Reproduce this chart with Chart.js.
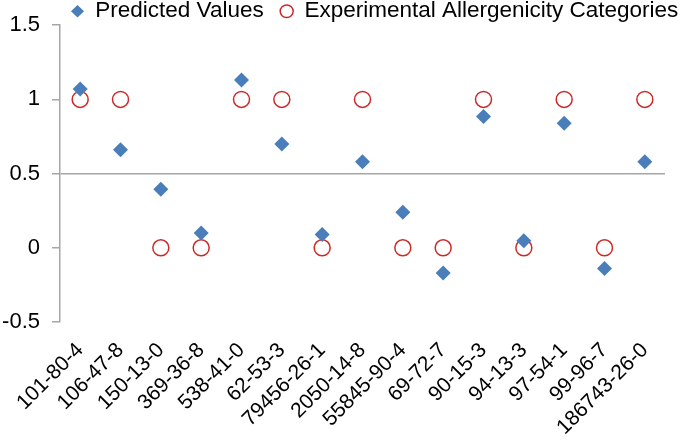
<!DOCTYPE html>
<html>
<head>
<meta charset="utf-8">
<script src="https://cdn.jsdelivr.net/npm/chart.js@4/dist/chart.umd.min.js"></script>
<style>
html, body { margin: 0; padding: 0; background: #fff; }
#wrap { width: 685px; height: 440px; }
</style>
</head>
<body>
<div id="wrap"><canvas id="myChart"></canvas></div>
<script>
const categories = ['101-80-4', '106-47-8', '150-13-0', '369-36-8', '538-41-0', '62-53-3', '79456-26-1',
	'2050-14-8', '55845-90-4', '69-72-7', '90-15-3', '94-13-3', '97-54-1', '99-96-7', '186743-26-0'];
const predicted = [1.07, 0.66, 0.395, 0.10, 1.13, 0.70, 0.09, 0.58, 0.24, -0.17, 0.885, 0.047, 0.84, -0.14, 0.58];
const experimental = [1, 1, 0, 0, 1, 1, 0, 1, 0, 0, 1, 0, 1, 0, 1];
const yTicks = [-0.5, 0, 0.5, 1, 1.5];

const axisGray = '#a6a6a6';
const fontFamily = 'Liberation Sans, Arial, sans-serif';

// legend sits over the top of the plot, on one row, as in the original
const legendMover = {
	id: 'legendMover',
	afterLayout(chart) {
		const lg = chart.legend;
		if (!lg) return;
		const pad = lg.options.labels.padding;
		lg.update(800, 80, {left: 0, top: 0, right: 0, bottom: 0});
		lg.left = 71 - pad;
		lg.right = lg.left + 800;
		lg.top = 0 - pad;
		lg.bottom = lg.top + lg.height;
	}
};

new Chart(document.getElementById('myChart').getContext('2d'), {
	type: 'line',
	data: {
		labels: categories,
		datasets: [{
			label: 'Predicted Values',
			data: predicted,
			showLine: false,
			pointStyle: 'rectRot',
			pointRadius: 7.5,
			pointBackgroundColor: '#4a7ebb',
			pointBorderColor: '#4a7ebb',
			backgroundColor: '#4a7ebb',
			borderColor: '#4a7ebb',
			borderWidth: 0
		}, {
			label: 'Experimental Allergenicity Categories',
			data: experimental,
			showLine: false,
			pointStyle: 'circle',
			pointRadius: 8,
			pointBorderWidth: 1.5,
			pointBackgroundColor: 'rgba(255,255,255,0)',
			pointBorderColor: '#cc2a2a',
			backgroundColor: 'rgba(255,255,255,0)',
			borderColor: '#cc2a2a',
			borderWidth: 1.5
		}]
	},
	plugins: [legendMover],
	options: {
		responsive: true,
		maintainAspectRatio: false,
		animation: false,
		layout: {padding: {top: 10, right: 20, left: 2, bottom: 0}},
		plugins: {
			tooltip: {enabled: false},
			legend: {
				position: 'chartArea',
				align: 'start',
				labels: {
					usePointStyle: true,
					boxHeight: 9,
					pointStyleWidth: 13,
					padding: 16.5,
					color: '#000',
					font: {family: fontFamily, size: 22.5}
				}
			}
		},
		scales: {
			x: {
				offset: true,
				grid: {display: false, drawTicks: false},
				border: {display: false},
				afterFit: scale => {
					scale.paddingLeft = 0;
					scale.paddingRight = 0;
					scale.getPadding = () => ({left: 0, right: 0, top: 0, bottom: 0});
					scale.height = 118;
				},
				ticks: {
					color: '#000',
					font: {family: fontFamily, size: 21},
					minRotation: 45,
					maxRotation: 45,
					autoSkip: false,
					padding: 16
				}
			},
			y: {
				min: -0.5,
				max: 1.5,
				afterBuildTicks: axis => { axis.ticks = yTicks.map(v => ({value: v})); },
				afterFit: scale => { scale.width = 58; },
				grid: {
					color: ctx => (ctx.tick && ctx.tick.value === 0.5) ? axisGray : 'rgba(0,0,0,0)',
					tickColor: axisGray,
					tickLength: 8,
					lineWidth: 1.5
				},
				border: {display: true, color: axisGray, width: 1.5},
				ticks: {
					color: '#000',
					font: {family: fontFamily, size: 22},
					padding: 12,
					callback: v => String(v)
				}
			}
		}
	}
});
</script>
</body>
</html>
